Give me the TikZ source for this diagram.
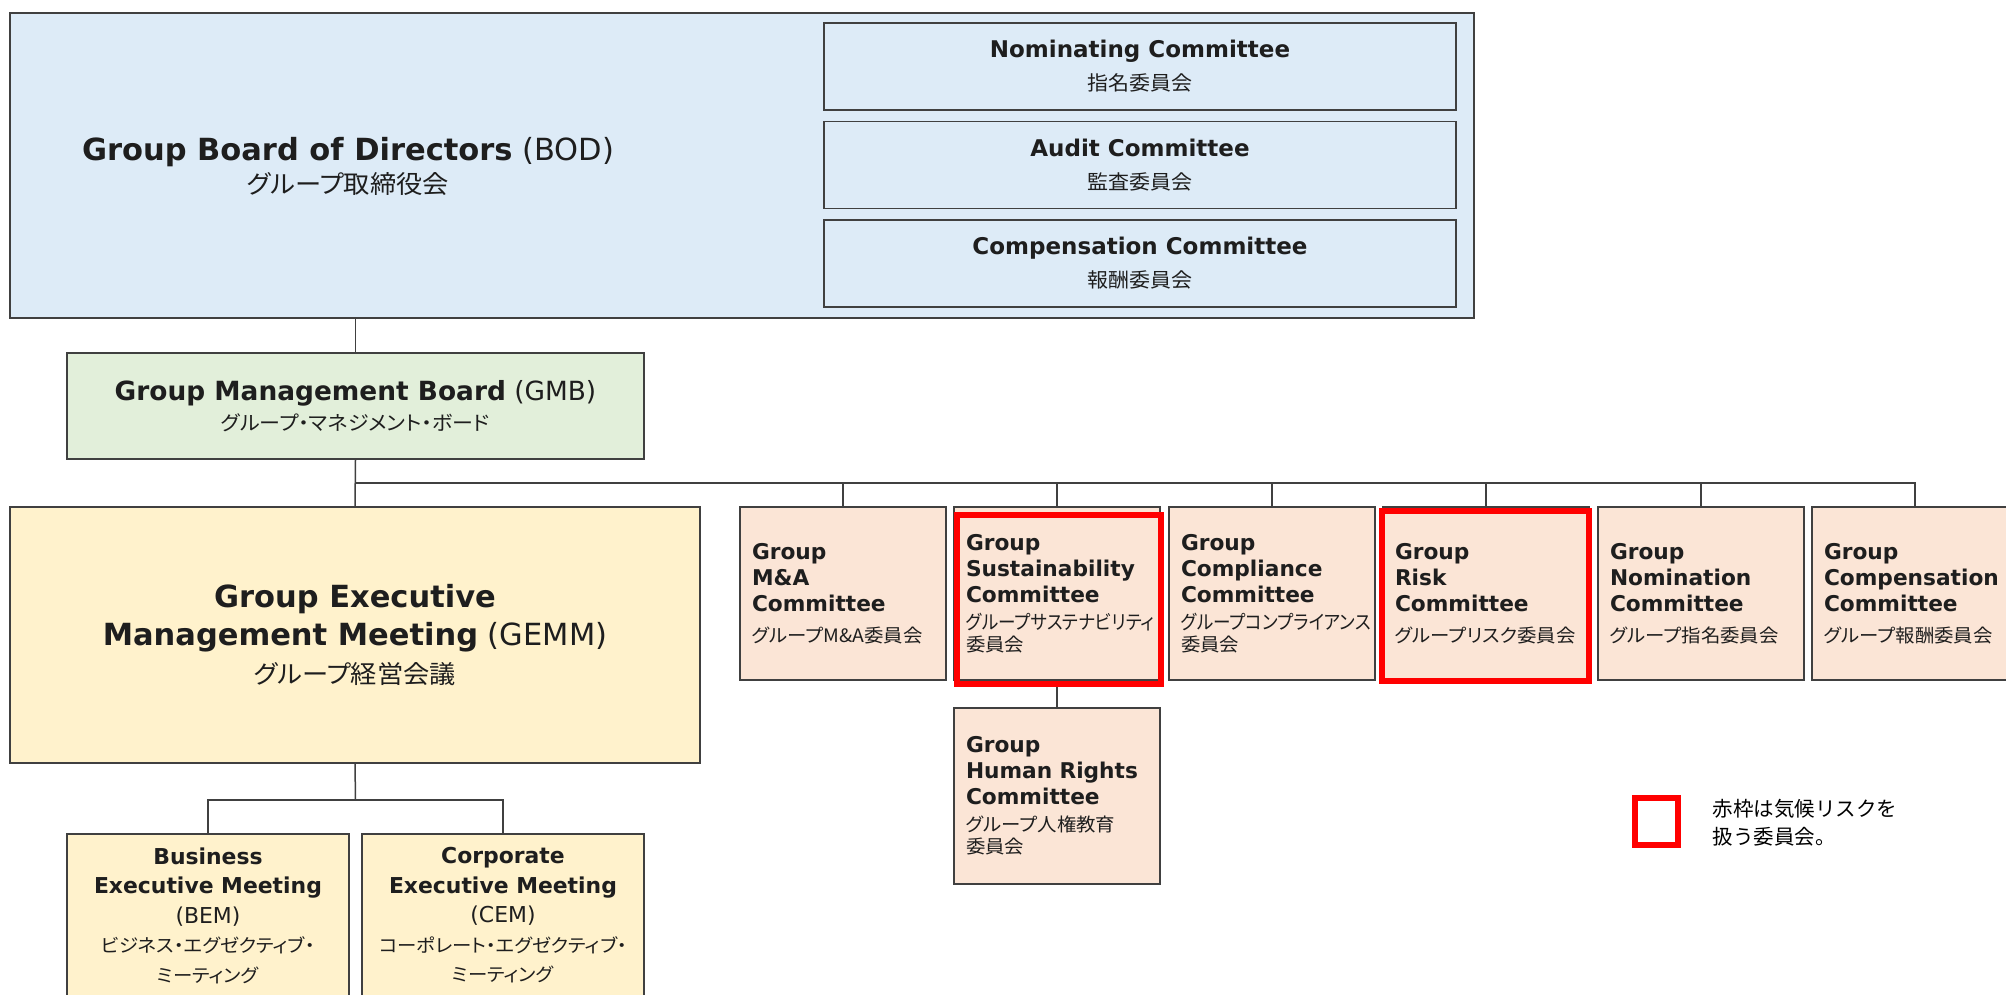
\documentclass[tikz,border=0pt]{standalone}
\usepackage{fontspec}
\setmainfont{DejaVu Sans}
\newfontfamily\jp[RawFeature=+palt,FakeStretch=1.05]{Noto Sans CJK JP}
\newfontfamily\jpnarrow[RawFeature=+palt,FakeStretch=0.9]{Noto Sans CJK JP}
\newfontfamily\jpfix{Noto Sans CJK JP}
\newcommand{\jpb}{\jp\mdseries\fontsize{25}{35}\selectfont}
\newcommand{\jpm}{\jp\mdseries\fontsize{20}{30}\selectfont}
\newcommand{\jps}{\jp\mdseries\fontsize{18.5}{22}\selectfont}
\newcommand{\jpn}{\jpnarrow\mdseries\fontsize{19.5}{22}\selectfont}
\definecolor{cbod}{RGB}{221,235,247}
\definecolor{cgmb}{RGB}{226,239,218}
\definecolor{cgemm}{RGB}{255,242,204}
\definecolor{ccom}{RGB}{251,229,214}
\definecolor{cline}{RGB}{64,64,64}
\definecolor{ctext}{RGB}{30,30,30}
\definecolor{cred}{RGB}{255,0,0}

\begin{document}
\begin{tikzpicture}[x=1pt,y=-1pt,
   box/.style={draw=cline,line width=1.8pt,inner sep=0pt,text=ctext},
   sub/.style={box,fill=cbod,minimum width=632pt,minimum height=87pt,align=center,font=\fontsize{23}{33}\selectfont},
   com/.style={box,fill=ccom,minimum width=206pt,minimum height=173pt,text width=182pt,inner xsep=12pt,align=left,font=\fontsize{21.7}{26}\selectfont\bfseries},
   meet/.style={box,fill=cgemm,minimum width=282pt,minimum height=163pt,align=center,font=\fontsize{21.9}{29.5}\selectfont},
   link/.style={draw=cline,line width=1.5pt},
   hot/.style={draw=cred,line width=6pt,inner sep=0pt}]
  \path[use as bounding box,fill=white] (0,0) rectangle (2006,994);
  % board and its committees
  \node[box,fill=cbod,minimum width=1464pt,minimum height=305pt] (bod) at (742,165.5) {};
  \node[align=center,text=ctext,font=\fontsize{30.5}{33}\selectfont] (bodt) at (348,166)
    {\textbf{Group Board of Directors} (BOD)\\{\jpb グループ取締役会}};
  \node[sub] (nomc) at (1140,66.5) {\textbf{Nominating Committee}\\{\jpm 指名委員会}};
  \node[sub] (audc) at (1140,165)  {\textbf{Audit Committee}\\{\jpm 監査委員会}};
  \node[sub] (cmpc) at (1140,263.5) {\textbf{Compensation Committee}\\{\jpm 報酬委員会}};
  % management
  \node[box,fill=cgmb,minimum width=577pt,minimum height=106pt,align=center,font=\fontsize{26.4}{30}\selectfont] (gmb) at (355.5,406)
    {\textbf{Group Management Board} (GMB)\\{\jpm グループ・マネジメント・ボード}};
  \node[box,fill=cgemm,minimum width=690pt,minimum height=256pt,align=center,font=\fontsize{30.5}{38}\selectfont] (gemm) at (355,635)
    {\textbf{Group Executive}\\\textbf{Management Meeting} (GEMM)\\{\jpb グループ経営会議}};
  \node[meet] (bem) at (208,915.5) {\textbf{Business}\\\textbf{Executive Meeting}\\(BEM)\\{\jps ビジネス・エグゼクティブ・}\\{\jps ミーティング}};
  \node[meet] (cem) at (503,915.5) {\textbf{Corporate}\\\textbf{Executive Meeting}\\(CEM)\\{\jps コーポレート・エグゼクティブ・}\\{\jps ミーティング}};
  % group committees
  \node[com] (ma)  at (843,593.5)  {Group\\M\&A\\Committee\\[5pt]{\jps グループM\&A委員会}};
  \node[com] (sus) at (1057,593.5) {Group\\Sustainability\\Committee\\[5pt]{\jpn グループサステナビリティ\\[-4pt]\jps 委員会}};
  \node[com] (cpl) at (1272,593.5) {Group\\Compliance\\Committee\\[5pt]{\jpn グループコンプライアンス\\[-4pt]\jps 委員会}};
  \node[com] (rsk) at (1486,593.5) {Group\\Risk\\Committee\\[5pt]{\jps グループリスク委員会}};
  \node[com] (nmc) at (1701,593.5) {Group\\Nomination\\Committee\\[5pt]{\jps グループ指名委員会}};
  \node[com] (cmp) at (1915,593.5) {Group\\Compensation\\Committee\\[5pt]{\jps グループ報酬委員会}};
  \node[com,minimum height=176pt] (hr) at (1057,796) {Group\\Human Rights\\Committee\\[5pt]{\jps グループ人権教育\\[-4pt]委員会}};
  % connectors
  \coordinate (bus) at (355.5,483);
  \coordinate (esplit) at (355.5,800);
  \draw[link] (bod.south -| gmb.north) -- (gmb.north);
  \draw[link] (gmb.south) -- (gemm.north);
  \foreach \c in {ma,sus,cpl,rsk,nmc,cmp}
    \draw[link] (bus) -| (\c.north);
  \draw[link] (sus.south) -- (hr.north);
  \draw[link] (gemm.south) -- (esplit);
  \draw[link] (esplit) -| (bem.north);
  \draw[link] (esplit) -| (cem.north);
  % climate-risk frames and key
  \node[hot,minimum width=204pt,minimum height=169pt] (susred) at (1059,599.5) {};
  \node[hot,minimum width=207pt,minimum height=170pt] (rskred) at (1485.5,596) {};
  \node[hot,minimum width=43pt,minimum height=47pt] (key) at (1656.5,821.5) {};
  \node[anchor=west,align=left,text=black,font=\jpfix\fontsize{20.5}{28}\selectfont] (keytxt) at (1709,822.5)
    {赤枠は気候リスクを\\扱う委員会。};
\end{tikzpicture}
\end{document}
